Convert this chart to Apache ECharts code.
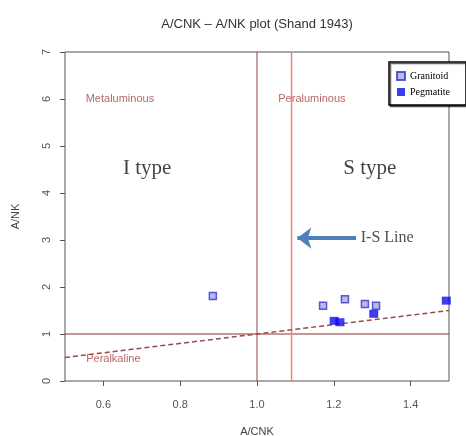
<!DOCTYPE html>
<html>
<head>
<meta charset="utf-8">
<script src="https://cdn.jsdelivr.net/npm/echarts@6/dist/echarts.min.js"></script>
<style>
  html, body { margin: 0; padding: 0; background: #fff; }
  #chart1 { width: 466px; height: 436px; }
</style>
</head>
<body>
<div id="chart1"></div>
<script>
// data
var granitoidX = [0.885, 1.172, 1.229, 1.281, 1.310];
var granitoidY = [1.81, 1.60, 1.74, 1.64, 1.60];
var pegmatiteX = [1.201, 1.216, 1.304, 1.493];
var pegmatiteY = [1.28, 1.25, 1.43, 1.71];

var xTicks = [0.6, 0.8, 1.0, 1.2, 1.4];

var hLineX = [0.5, 1.5];   // A/NK = 1
var hLineY = [1, 1];
var dashX = [0.5, 1.5];    // peralkaline boundary
var dashY = [0.5, 1.5];
var metaLineX = [1.0, 1.0];   // A/CNK = 1
var isLineX = [1.09, 1.09];   // I-S line
var vLineY = [0, 7];
var arrowFrom = [1.258, 3.04];
var arrowTo = [1.105, 3.04];

var regionNames = ['Metaluminous', 'Peraluminous', 'Peralkaline'];
var regionX = [0.643, 1.143, 0.626];
var regionY = [6.0, 6.0, 0.47];
var typeNames = ['I type', 'S type'];
var typeX = [0.714, 1.294];
var typeY = [4.53, 4.53];
var isLabel = ['I-S Line'];
var isLabelX = [1.339];
var isLabelY = [3.04];

function zip(a, b) {
    var out = [];
    for (var i = 0; i < a.length; i++) { out.push([a[i], b[i]]); }
    return out;
}
function labelPts(names, xs, ys) {
    var out = [];
    for (var i = 0; i < names.length; i++) { out.push({ name: names[i], value: [xs[i], ys[i]] }); }
    return out;
}
function refLine(name, xs, ys, color, width) {
    return {
        name: name,
        type: 'line',
        symbol: 'none',
        silent: true,
        z: 4,
        lineStyle: { color: color, width: width },
        data: zip(xs, ys)
    };
}

var brown = '#a04040';
var chart1 = echarts.init(document.getElementById('chart1'));

var option = {
    animation: false,
    backgroundColor: '#fff',
    graphic: [{
        type: 'text',
        x: 257, y: 24,
        style: {
            text: 'A/CNK – A/NK plot (Shand 1943)',
            font: '13px "Liberation Sans", Arial, sans-serif',
            fill: '#333',
            textAlign: 'center',
            textVerticalAlign: 'middle'
        }
    }],
    legend: {
        left: 389,
        top: 62,
        orient: 'vertical',
        itemWidth: 8,
        itemHeight: 8,
        itemGap: 6,
        padding: [9, 16, 8, 7],
        borderColor: '#000',
        borderWidth: 1.5,
        backgroundColor: '#fff',
        shadowColor: 'rgba(0,0,0,0.6)',
        shadowOffsetX: 1.5,
        shadowOffsetY: 1.5,
        textStyle: { fontFamily: '"Liberation Serif", serif', fontSize: 10, color: '#000' },
        data: ['Granitoid', 'Pegmatite']
    },
    grid: {
        left: 65, right: 17, top: 52, bottom: 55,
        outerBoundsMode: 'none',
        show: true,
        borderColor: '#555',
        borderWidth: 1,
        backgroundColor: 'transparent'
    },
    xAxis: {
        type: 'value',
        min: 0.5, max: 1.5,
        name: 'A/CNK',
        nameLocation: 'middle',
        nameGap: 45,
        nameTextStyle: { fontSize: 11, color: '#444', fontFamily: '"Liberation Sans", Arial, sans-serif' },
        axisLine: { show: false },
        splitLine: { show: false },
        axisTick: { show: true, length: 5, customValues: xTicks, lineStyle: { color: '#555' } },
        axisLabel: {
            customValues: xTicks,
            margin: 18,
            fontSize: 11,
            color: '#555',
            fontFamily: '"Liberation Sans", Arial, sans-serif',
            formatter: function (v) { return v.toFixed(1); }
        }
    },
    yAxis: {
        type: 'value',
        min: 0, max: 7, interval: 1,
        name: 'A/NK',
        nameLocation: 'middle',
        nameGap: 44,
        nameTextStyle: { fontSize: 11, color: '#444', fontFamily: '"Liberation Sans", Arial, sans-serif' },
        axisLine: { show: false },
        splitLine: { show: false },
        axisTick: { show: true, length: 5, lineStyle: { color: '#555' } },
        axisLabel: {
            rotate: 90,
            margin: 13,
            fontSize: 11,
            color: '#555',
            fontFamily: '"Liberation Sans", Arial, sans-serif'
        }
    },
    series: [
        {
            name: 'regions',
            type: 'scatter',
            symbolSize: 0,
            silent: true,
            z: 3,
            label: {
                show: true, position: 'inside', formatter: '{b}',
                fontSize: 11, color: brown,
                fontFamily: '"Liberation Sans", Arial, sans-serif'
            },
            data: labelPts(regionNames, regionX, regionY)
        },
        {
            name: 'types',
            type: 'scatter',
            symbolSize: 0,
            silent: true,
            z: 3,
            label: {
                show: true, position: 'inside', formatter: '{b}',
                fontSize: 21, color: '#111',
                fontFamily: '"Liberation Serif", "Times New Roman", serif'
            },
            data: labelPts(typeNames, typeX, typeY)
        },
        {
            name: 'isLabel',
            type: 'scatter',
            symbolSize: 0,
            silent: true,
            z: 3,
            label: {
                show: true, position: 'inside', formatter: '{b}',
                fontSize: 16, color: '#222',
                fontFamily: '"Liberation Serif", "Times New Roman", serif'
            },
            data: labelPts(isLabel, isLabelX, isLabelY),
            markLine: {
                silent: true,
                symbol: ['none', 'arrow'],
                symbolSize: [16, 14],
                label: { show: false },
                lineStyle: { color: '#4f7fbb', width: 4, type: 'solid' },
                data: [[{ coord: arrowFrom }, { coord: arrowTo }]]
            }
        },
        refLine('hline', hLineX, hLineY, '#8b3030', 1),
        refLine('metaLine', metaLineX, vLineY, '#9a4040', 1),
        refLine('isLine', isLineX, vLineY, '#ff7c7c', 1.5),
        {
            name: 'dash',
            type: 'line',
            symbol: 'none',
            silent: true,
            z: 4,
            lineStyle: { color: '#9a4a4a', width: 1.5, type: [5, 3] },
            data: zip(dashX, dashY)
        },
        {
            name: 'Granitoid',
            type: 'scatter',
            symbol: 'rect',
            symbolSize: 7,
            z: 5,
            itemStyle: { color: '#a6a6f0', borderColor: '#3535c8', borderWidth: 1.5 },
            data: zip(granitoidX, granitoidY)
        },
        {
            name: 'Pegmatite',
            type: 'scatter',
            symbol: 'rect',
            symbolSize: [9, 8],
            z: 5,
            itemStyle: { color: '#0b0bee' },
            data: zip(pegmatiteX, pegmatiteY)
        }
    ]
};

chart1.setOption(option);
window.onresize = chart1.resize;
</script>
</body>
</html>
